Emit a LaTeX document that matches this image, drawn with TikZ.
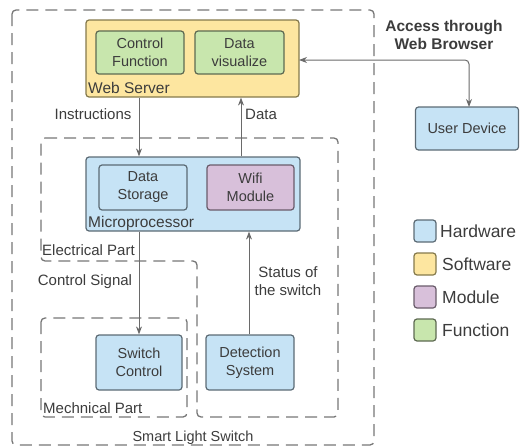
\documentclass[tikz,border=0pt]{standalone}
\usepackage{fontspec}
\setmainfont{Liberation Sans}
\usetikzlibrary{arrows.meta}
\definecolor{txt}{HTML}{3C3C3C}
\definecolor{hwfill}{HTML}{C6E3F5}
\definecolor{hwline}{HTML}{5C6B75}
\definecolor{swfill}{HTML}{FDE6A0}
\definecolor{swline}{HTML}{857A4C}
\definecolor{mofill}{HTML}{D8C0DA}
\definecolor{moline}{HTML}{6A5C6B}
\definecolor{fnfill}{HTML}{C8E6AD}
\definecolor{fnline}{HTML}{5E6A52}
\definecolor{dashc}{HTML}{777777}
\definecolor{arrc}{HTML}{6A6A6A}
\tikzset{
  x=1pt, y=-1pt,
  every node/.style={text=txt, font=\fontsize{14.5}{18}\selectfont, inner sep=0pt},
  boxbase/.style={draw, line width=1.2pt, rounded corners=3pt, align=center},
  hwbox/.style={boxbase, fill=hwfill, draw=hwline},
  swbox/.style={boxbase, fill=swfill, draw=swline},
  mobox/.style={boxbase, fill=mofill, draw=moline},
  fnbox/.style={boxbase, fill=fnfill, draw=fnline},
  grp/.style={draw=dashc, line width=1.3pt, dash pattern=on 12pt off 7pt, rounded corners=4pt},
  arr/.style={draw=arrc, line width=1pt, -{Stealth[length=8pt,width=6pt]}},
  arrb/.style={draw=arrc, line width=1pt, {Stealth[length=8pt,width=6pt]}-{Stealth[length=8pt,width=6pt]}, rounded corners=4pt},
  lbl/.style={font=\fontsize{15}{20}\selectfont},
  leg/.style={draw, line width=1.2pt, rounded corners=3pt, minimum width=22pt, minimum height=22pt},
  legtxt/.style={anchor=west, font=\fontsize{17.5}{20}\selectfont},
}
\begin{document}
\begin{tikzpicture}
\useasboundingbox (0,0) rectangle (520,447);
% groups
\draw[grp] (12,10) rectangle (374,445);
\draw[grp] (41,138) -- (338,138) -- (338,417) -- (197,417) -- (197,261) -- (41,261) -- cycle;
\draw[grp] (41,318) rectangle (187,417);
% web server
\node[swbox, minimum width=213pt, minimum height=77pt] (ws) at (192.5,58.5) {};
\node[fnbox, minimum width=88pt, minimum height=43pt] (cf) at (140,52.5) {Control\\Function};
\node[fnbox, minimum width=89pt, minimum height=43pt] (dv) at (239.5,52.5) {Data\\visualize};
\node[anchor=west, font=\fontsize{15.5}{18}\selectfont] (wsl) at (88,88) {Web Server};
% microprocessor
\node[hwbox, minimum width=214pt, minimum height=74pt] (mp) at (193,194) {};
\node[hwbox, minimum width=88pt, minimum height=45pt] (dsg) at (143,187.5) {Data\\Storage};
\node[mobox, minimum width=87pt, minimum height=45pt] (wm) at (250.5,187.5) {Wifi\\Module};
\node[anchor=west, font=\fontsize{15.5}{18}\selectfont] (mpl) at (88,223) {Microprocessor};
% bottom
\node[hwbox, minimum width=86pt, minimum height=55pt] (sc) at (139,362.5) {Switch\\Control};
\node[hwbox, minimum width=88pt, minimum height=55pt] (det) at (250,362.5) {Detection\\System};
% user device
\node[hwbox, minimum width=103pt, minimum height=43pt] (ud) at (467,128.5) {User Device};
% connectors
\draw[arr] (ws.south -| sc.north) -- (mp.north -| sc.north);
\draw[arr] (mp.north -| 241,0) -- (ws.south -| 241,0);
\draw[arr] (mp.south -| sc.north) -- (sc.north);
\draw[arr] (det.north -| 249,0) -- (mp.south -| 249,0);
\coordinate (udtop) at (469,107);
\coordinate (wsr) at (299,60);
\draw[arrb] (wsr) -| (udtop);
% labels
\node[lbl] (l1) at (93,114) {Instructions};
\node[lbl, anchor=west] (l2) at (245,114) {Data};
\node[lbl] (l3) at (85,282) {Control Signal};
\node[lbl, align=center, font=\fontsize{15}{18.5}\selectfont] (l4) at (288,281) {Status of\\the switch};
\node[lbl, anchor=west] (l5) at (42,250) {Electrical Part};
\node[lbl, anchor=west] (l6) at (43,408) {Mechnical Part};
\node[lbl, font=\fontsize{14.5}{18}\selectfont] (l7) at (193,438) {Smart Light Switch};
\node[align=center, font=\bfseries\fontsize{15.5}{18.5}\selectfont] (acc) at (444,35) {Access through\\Web Browser};
% legend
\node[leg, fill=hwfill, draw=hwline] (k1) at (425,231) {};
\node[leg, fill=swfill, draw=swline] (k2) at (425,264) {};
\node[leg, fill=mofill, draw=moline] (k3) at (425,297) {};
\node[leg, fill=fnfill, draw=fnline] (k4) at (425,330) {};
\node[legtxt] (t1) at (440,231) {Hardware};
\node[legtxt] (t2) at (442,264) {Software};
\node[legtxt] (t3) at (442,297) {Module};
\node[legtxt] (t4) at (442,330) {Function};
\end{tikzpicture}
\end{document}
